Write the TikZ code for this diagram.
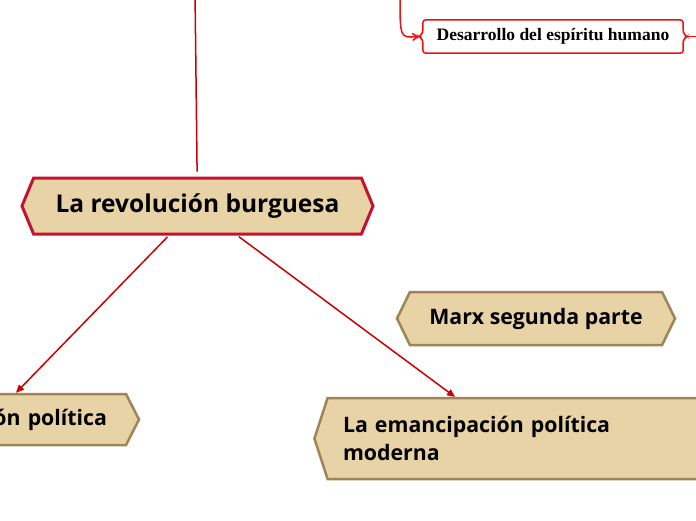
\documentclass[tikz,border=0pt]{standalone}
\usepackage{fontspec}
\setmainfont{Open Sans}
\newfontfamily\serifbold{Liberation Serif}
\usetikzlibrary{shapes.symbols,arrows.meta,calc}
\definecolor{topicfill}{HTML}{E8D3A6}
\definecolor{topicline}{HTML}{9E8558}
\definecolor{mainline}{HTML}{C41230}
\definecolor{linkred}{HTML}{CC0000}
\definecolor{bracered}{HTML}{F01010}
\begin{document}
\begin{tikzpicture}[x=1pt,y=-1pt,
	topic/.style={shape=signal,signal to=west and east,fill=topicfill,draw=topicline,line width=2.5pt,
		font=\bfseries\fontsize{21.3}{28}\selectfont,inner sep=0pt,signal pointer angle=128},
	link/.style={draw=linkred,line width=1.5pt,-{Triangle[length=8pt,width=7pt]}},
	bracebox/.style={draw=bracered,line width=1.5pt,rounded corners=3pt}]
	\useasboundingbox (0,0) rectangle (696,520);
	\clip (0,0) rectangle (696,520);
	\node[topic,draw=mainline,line width=3pt,font=\bfseries\fontsize{24.5}{28}\selectfont,
		minimum width=351pt,minimum height=56pt,signal pointer angle=135] (main) at (197.5,206) {La revolución burguesa};
	\node[topic,minimum width=278pt,minimum height=53pt] (marx) at (536,318.5) {Marx segunda parte};
	\node[topic,minimum width=298pt,minimum height=51pt,text width=234pt,align=right,signal pointer angle=126] (left) at (-10,419.5) {ón política};
	\node[topic,signal to=west,minimum width=464pt,minimum height=81pt,text width=420pt,align=left,signal pointer angle=144] (eman) at (553,438.5) {La emancipación política\\moderna};
	\node[minimum width=260pt,minimum height=33pt,inner sep=0pt,font=\serifbold\bfseries\fontsize{17.5}{19}\selectfont] (desa) at (553,36.5) {Desarrollo del espíritu humano};
	\draw[bracebox] (desa.north) -- (desa.north east) -- ($(desa.east)+(0,-3)$) -- ($(desa.east)+(4,0)$) -- ($(desa.east)+(0,3)$)
		-- (desa.south east) -- (desa.south west) -- ($(desa.west)+(0,3)$) -- ($(desa.west)+(-4,0)$) -- ($(desa.west)+(0,-3)$)
		-- (desa.north west) -- cycle;
	\coordinate (desaL) at ($(desa.west)+(-4,0)$);
	\coordinate (desaR) at ($(desa.east)+(4,0)$);
	\coordinate (offR) at (710,36.5);
	\coordinate (offA) at (400,-5);
	\coordinate (offT) at (195,-9);
	\draw[draw=bracered,line width=1.5pt] (desaR) -- (offR);
	\draw[draw=bracered,line width=1.5pt,-{Straight Barb[length=5pt,width=7pt]}] (offA) .. controls (400,38) .. (desaL);
	\draw[link,shorten <=5pt] (main) -- (offT);
	\draw[link,shorten <=2pt] (main) -- (left);
	\draw[link,shorten <=2pt] (main) -- (eman.157);
\end{tikzpicture}
\end{document}
